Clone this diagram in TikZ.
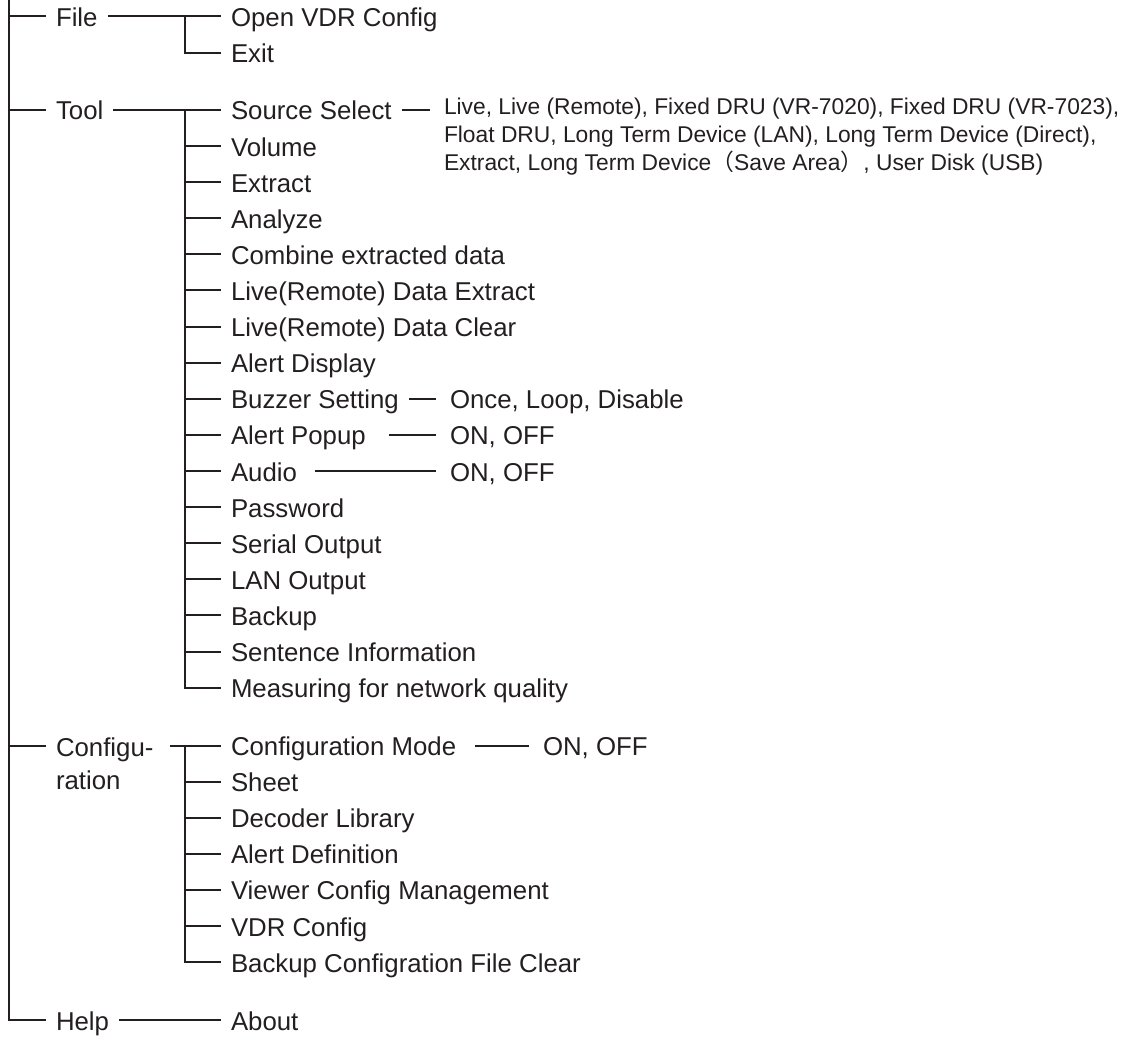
\documentclass[tikz,border=0pt]{standalone}
\usepackage{fontspec}
\setmainfont{Liberation Sans}
\newfontfamily\cjkfont{Noto Sans CJK JP}
\usepackage{tikz}
\definecolor{ink}{HTML}{231F20}
\newcommand{\menufont}{\fontsize{12.9}{16.75}\selectfont}
\newcommand{\optfont}{\fontsize{11.4}{14}\selectfont}

\tikzset{
  wire/.style={line width=1pt,draw=ink},
  item/.style={anchor=west,inner sep=0pt,outer xsep=5pt,text height=10pt,text depth=0pt,
    font=\menufont,text=ink},
  choice/.style={item,outer xsep=7pt},
  block/.style={anchor=north west,inner sep=0pt,align=left,text=ink},
}

\begin{document}
\begin{tikzpicture}[x=0.5pt,y=-0.5pt]
  \useasboundingbox (0,0) rectangle (1146,1037);
  \coordinate (root) at (9,0);

  % top menu
  \node (file) [item] at (46,16.5) {File};
  \node (tool) [item] at (46,110) {Tool};
  \node (config) [block,outer xsep=5pt,font=\menufont] at (46,737) {Configu-\\ration};
  \node (help) [item] at (46,1020) {Help};

  % File
  \node (openvdr) [item] at (221,16.5) {Open VDR Config};
  \node (exit) [item] at (221,53) {Exit};

  % Tool
  \node (srcsel) [item] at (221,110) {Source Select};
  \node (volume) [item] at (221,146.1) {Volume};
  \node (extract) [item] at (221,182.2) {Extract};
  \node (analyze) [item] at (221,218.3) {Analyze};
  \node (combine) [item] at (221,254.4) {Combine extracted data};
  \node (liveext) [item] at (221,290.5) {Live(Remote) Data Extract};
  \node (liveclr) [item] at (221,326.6) {Live(Remote) Data Clear};
  \node (alertdisp) [item] at (221,362.7) {Alert Display};
  \node (buzzer) [item] at (221,398.8) {Buzzer Setting};
  \node (popup) [item] at (221,434.9) {Alert Popup};
  \node (audio) [item] at (221,471) {Audio};
  \node (password) [item] at (221,507.1) {Password};
  \node (serial) [item] at (221,543.2) {Serial Output};
  \node (lanout) [item] at (221,579.3) {LAN Output};
  \node (backup) [item] at (221,615.4) {Backup};
  \node (sentence) [item] at (221,651.5) {Sentence Information};
  \node (netq) [item] at (221,687.6) {Measuring for network quality};

  % Configuration
  \node (cmode) [item] at (221,745.5) {Configuration Mode};
  \node (sheet) [item] at (221,781.6) {Sheet};
  \node (decoder) [item] at (221,817.7) {Decoder Library};
  \node (alertdef) [item] at (221,853.8) {Alert Definition};
  \node (viewer) [item] at (221,889.9) {Viewer Config Management};
  \node (vdrcfg) [item] at (221,926) {VDR Config};
  \node (cfgclr) [item] at (221,962.1) {Backup Configration File Clear};

  % Help
  \node (about) [item] at (221,1020) {About};

  % settings
  \node (srcopt) [block,outer xsep=7pt,font=\optfont] at (430,97.5)
    {Live, Live (Remote), Fixed DRU (VR-7020), Fixed DRU (VR-7023),\\
     Float DRU, Long Term Device (LAN), Long Term Device (Direct),\\
     Extract, Long Term Device{\cjkfont （}Save Area{\cjkfont ）}, User Disk (USB)};
  \node (buzzopt) [choice] at (436,398.8) {Once, Loop, Disable};
  \node (popupopt) [choice] at (436,434.9) {ON, OFF};
  \node (audioopt) [choice] at (436,471) {ON, OFF};
  \node (cmodeopt) [choice] at (529,745.5) {ON, OFF};

  % tree lines
  \draw[wire] (root) |- (help);
  \draw[wire] (root |- file) -- (file);
  \draw[wire] (root |- tool) -- (tool);
  \draw[wire] (root |- cmode) -- (config.west |- cmode);

  \coordinate (filej) at (185,16.5);
  \draw[wire] (file) -- (openvdr);
  \draw[wire] (filej) |- (exit);

  \coordinate (toolj) at (185,110);
  \draw[wire] (tool) -- (srcsel);
  \draw[wire] (toolj) |- (netq);
  \foreach \n in {volume,extract,analyze,combine,liveext,liveclr,alertdisp,buzzer,
      popup,audio,password,serial,lanout,backup,sentence}
    \draw[wire] (toolj |- \n) -- (\n);

  \coordinate (cfgj) at (185,745.5);
  \draw[wire] ([xshift=3pt]config.east |- cmode) -- (cmode);
  \draw[wire] (cfgj) |- (cfgclr);
  \foreach \n in {sheet,decoder,alertdef,viewer,vdrcfg}
    \draw[wire] (cfgj |- \n) -- (\n);

  \draw[wire] (help) -- (about);

  % settings lines
  \draw[wire] (srcsel) -- (srcsel -| srcopt.west);
  \draw[wire] (buzzer) -- (buzzopt);
  \draw[wire] ([xshift=6.5pt]popup.east) -- (popupopt);
  \draw[wire] ([xshift=4pt]audio.east) -- (audioopt);
  \draw[wire] ([xshift=4.5pt]cmode.east) -- (cmodeopt);
\end{tikzpicture}
\end{document}
